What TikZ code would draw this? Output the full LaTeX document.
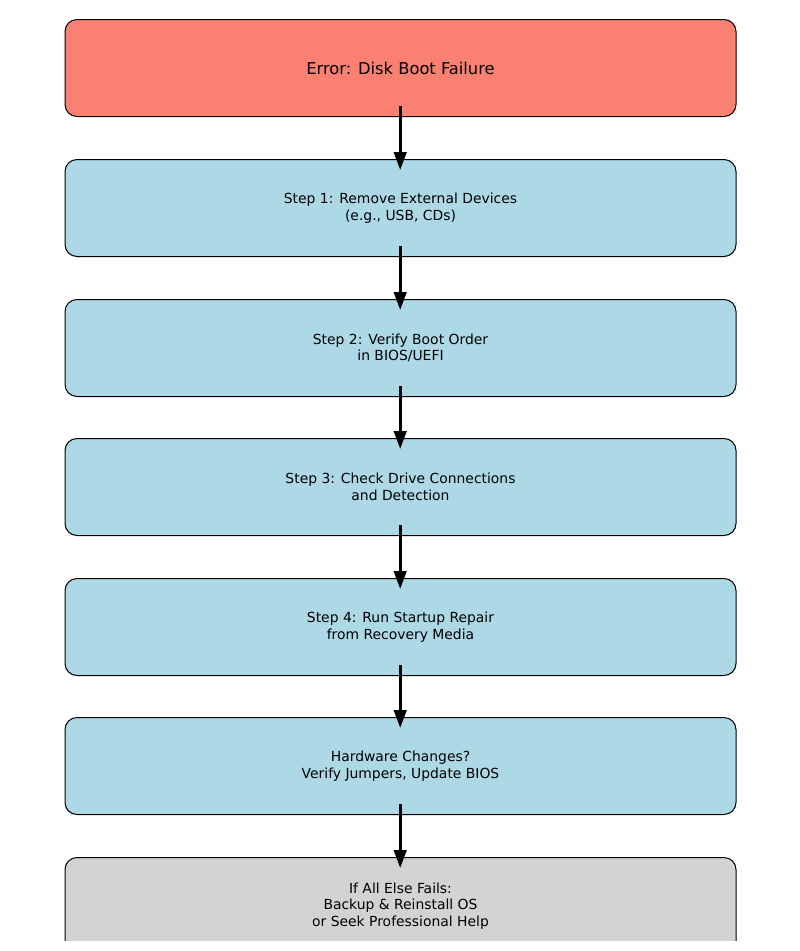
\documentclass[tikz,border=0pt]{standalone}
\usepackage{fontspec}
\setmainfont{DejaVu Sans}
\usetikzlibrary{arrows.meta}
\definecolor{salmonc}{HTML}{FA8072}
\definecolor{lblue}{HTML}{ADD8E6}
\definecolor{lgray}{HTML}{D3D3D3}
\begin{document}
\begin{tikzpicture}[x=1pt,y=1pt,
  box/.style={draw=black, line width=1pt, rounded corners=12pt, minimum width=671pt, minimum height=97pt, align=center, inner sep=0pt, anchor=north},
  stepfont/.style={font=\fontsize{13.9}{16.5}\selectfont},
  titlefont/.style={font=\fontsize{16.3}{19}\selectfont},
  flow/.style={line width=3pt, -{Triangle[length=18pt,width=12.5pt]}}]
\useasboundingbox (0,0) rectangle (800,-951);
\begin{scope}
\clip (0,0) rectangle (800,-940.5);
\node[box, fill=salmonc, titlefont] (e) at (400.5,-19) {Error: Disk Boot Failure};
\node[box, fill=lblue, stepfont] (s1) at (400.5,-159) {Step 1: Remove External Devices\\(e.g., USB, CDs)};
\node[box, fill=lblue, stepfont] (s2) at (400.5,-299) {Step 2: Verify Boot Order\\in BIOS/UEFI};
\node[box, fill=lblue, stepfont] (s3) at (400.5,-438) {Step 3: Check Drive Connections\\and Detection};
\node[box, fill=lblue, stepfont] (s4) at (400.5,-578) {Step 4: Run Startup Repair\\from Recovery Media};
\node[box, fill=lblue, stepfont] (s5) at (400.5,-717) {Hardware Changes?\\Verify Jumpers, Update BIOS};
\node[box, fill=lgray, stepfont] (s6) at (400.5,-857) {If All Else Fails:\\Backup \& Reinstall OS\\or Seek Professional Help};
\foreach \a/\b in {e/s1, s1/s2, s2/s3, s3/s4, s4/s5, s5/s6}
  \draw[flow] ([xshift=-0.3pt,yshift=11pt]\a.south) -- ([xshift=-0.3pt,yshift=-11pt]\b.north);
\end{scope}
\end{tikzpicture}
\end{document}
